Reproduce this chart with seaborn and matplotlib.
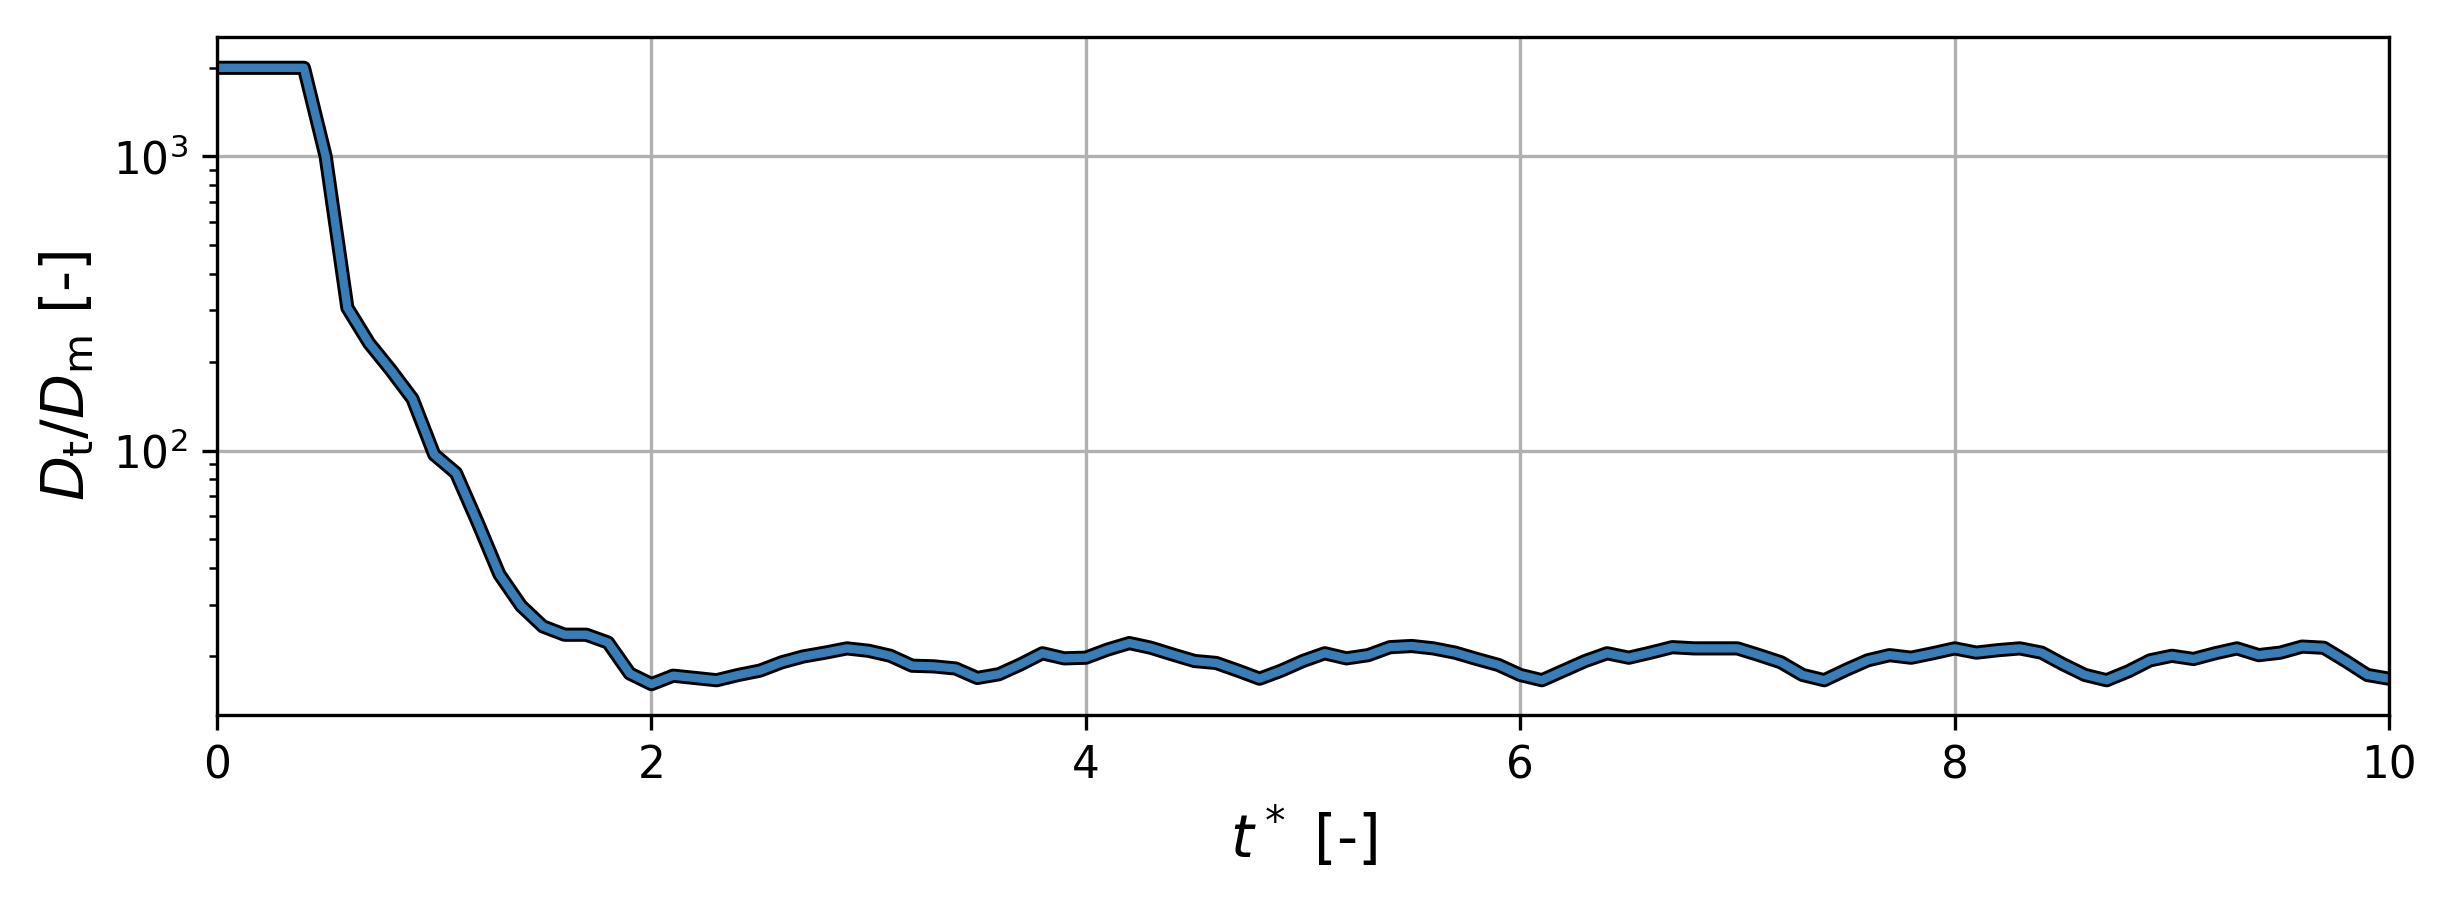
import numpy as np
import pandas as pd
import seaborn as sns
import matplotlib.pyplot as plt

# dimensionless time, sampled every 0.1
t_star = np.round(np.arange(101) * 0.1, 1)

# ratio D_t / D_m
d_ratio = [
    2000, 2000, 2000, 2000, 2000, 1000, 306, 232, 188, 150,
    97, 84, 57, 38, 29.7, 25.3, 23.7, 23.7, 22.3, 17.5,
    16.1, 17.2, 16.9, 16.6, 17.3, 17.9, 19.1, 20.0, 20.6, 21.3,
    20.9, 20.1, 18.6, 18.5, 18.2, 16.9, 17.4, 18.8, 20.5, 19.7,
    19.8, 21.1, 22.2, 21.4, 20.3, 19.3, 19.0, 17.9, 16.8, 17.9,
    19.3, 20.5, 19.7, 20.2, 21.5, 21.7, 21.3, 20.6, 19.6, 18.7,
    17.3, 16.6, 17.9, 19.3, 20.5, 19.8, 20.6, 21.5, 21.3, 21.3,
    21.3, 20.2, 19.1, 17.3, 16.6, 18.0, 19.4, 20.2, 19.8, 20.5,
    21.3, 20.6, 21.0, 21.3, 20.6, 18.8, 17.3, 16.6, 17.8, 19.4,
    20.1, 19.6, 20.5, 21.3, 20.2, 20.6, 21.6, 21.4, 19.3, 17.3,
    16.8,
]

df = pd.DataFrame({'t': t_star, 'D': d_ratio})

fig, ax = plt.subplots(figsize=(2447 / 300, 900 / 300), dpi=300)
fig.subplots_adjust(left=0.0887, right=0.9763, top=0.9589, bottom=0.2056)

# black outline under a blue line
sns.lineplot(data=df, x='t', y='D', color='black', linewidth=3.4, ax=ax)
sns.lineplot(data=df, x='t', y='D', color='#377eb8', linewidth=2.0, ax=ax)

ax.set_yscale('log')
ax.set_xlim(0, 10)
ax.grid(True, which='major', color='#b0b0b0', linewidth=0.8)
ax.set_axisbelow(True)

ax.set_xlabel(r'$t^*$ [-]', fontsize=14)
ax.set_ylabel(r'$D_\mathrm{t}/D_\mathrm{m}$ [-]', fontsize=14)
ax.tick_params(labelsize=10.5)

plt.savefig('out.png', dpi=300)
